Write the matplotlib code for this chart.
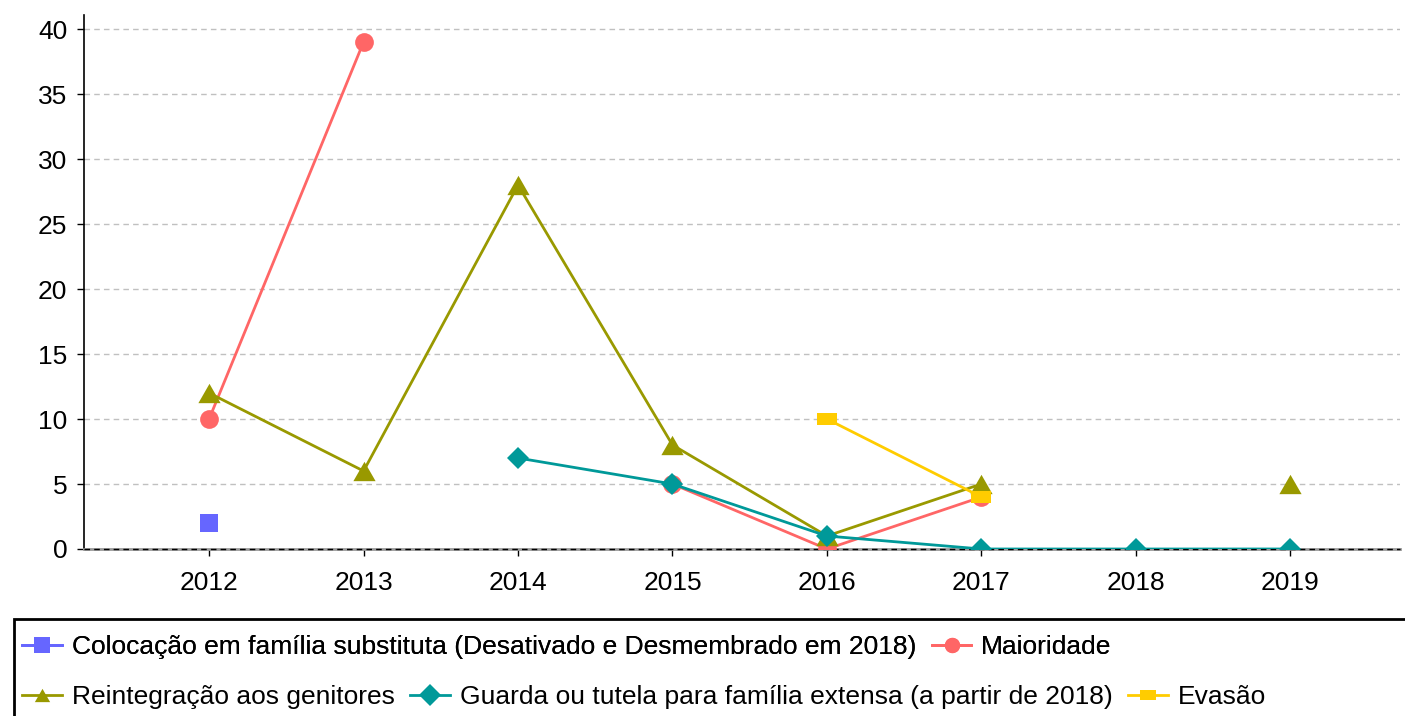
import numpy as np
import matplotlib
matplotlib.use("Agg")
import matplotlib.pyplot as plt
from matplotlib.patches import Rectangle
from matplotlib.path import Path

plt.rcParams['font.family'] = ['Liberation Sans', 'DejaVu Sans']

years = [2012, 2013, 2014, 2015, 2016, 2017, 2018, 2019]
nan = np.nan
colocacao = [2, nan, nan, nan, nan, nan, nan, nan]
maioridade = [10, 39, nan, 5, 0, 4, nan, nan]
reintegracao = [12, 6, 28, 8, 1, 5, nan, 5]
guarda = [nan, nan, 7, 5, 1, 0, 0, 0]
evasao = [nan, nan, nan, nan, 10, 4, nan, nan]

rect = Path([(-1, -0.6), (1, -0.6), (1, 0.6), (-1, 0.6), (-1, -0.6)],
            [Path.MOVETO, Path.LINETO, Path.LINETO, Path.LINETO, Path.CLOSEPOLY])
tri = Path([(0, 0.87), (1, -0.87), (-1, -0.87), (0, 0.87)],
           [Path.MOVETO, Path.LINETO, Path.LINETO, Path.CLOSEPOLY])

series = [
    ("Colocação em família substituta (Desativado e Desmembrado em 2018)", colocacao, '#6666ff', 's', 13),
    ("Maioridade", maioridade, '#ff6666', 'o', 13.5),
    ("Reintegração aos genitores", reintegracao, '#999900', tri, 16),
    ("Guarda ou tutela para família extensa (a partir de 2018)", guarda, '#009999', 'D', 11),
    ("Evasão", evasao, '#ffcc00', rect, 14),
]

FS = 19

fig = plt.figure(figsize=(14.05, 7.16), dpi=100)
ax = fig.add_axes([84/1405, 1-549/716, (1400-84)/1405, (549-15)/716])

handles = []
for label, vals, color, mk, ms in series:
    h, = ax.plot(years, vals, color=color, marker=mk, markersize=ms, lw=2,
                 markeredgewidth=0, label=label, zorder=3)
    handles.append(h)

ax.set_ylim(0, 41.08)
ax.set_xlim(2011.19, 2019.71)
ax.set_yticks(range(0, 41, 5))
ax.set_xticks(years)
ax.tick_params(axis='both', labelsize=FS, direction='out', color='black')
ax.tick_params(axis='y', length=5, width=1, pad=7)
ax.tick_params(axis='x', length=5, width=1, pad=11)
ax.yaxis.grid(True, color='#c0c0c0', ls=(0, (4, 3)), lw=1)
ax.set_axisbelow(True)
for s in ['top', 'right']:
    ax.spines[s].set_visible(False)
ax.spines['left'].set_color('black')
ax.spines['left'].set_linewidth(1.2)
ax.spines['bottom'].set_color('#999999')
ax.spines['bottom'].set_linewidth(2)
ax.axhline(0, color='black', ls=(0, (4, 3)), lw=1, zorder=2.8, clip_on=False)

# Legend frame
fig.patches.append(Rectangle((14/1405, -0.05), (1405-14)/1405 + 0.05, (1-619/716) + 0.05,
                             transform=fig.transFigure, fill=False, edgecolor='black',
                             lw=2, zorder=5))

common = dict(loc='center left', frameon=False, fontsize=FS, handlelength=1.5,
              handletextpad=0.38, columnspacing=0.6, borderaxespad=0, borderpad=0.3)
leg1 = fig.legend(handles=handles[:2], bbox_to_anchor=(14/1405, 1-647/716), ncol=2, **common)
fig.add_artist(leg1)
leg2 = fig.legend(handles=handles[2:], bbox_to_anchor=(14/1405, 1-697/716), ncol=3, **common)
for leg in (leg1, leg2):
    for lh in leg.legend_handles:
        lh.set_markersize(11)

fig.savefig("out.png", dpi=100)
